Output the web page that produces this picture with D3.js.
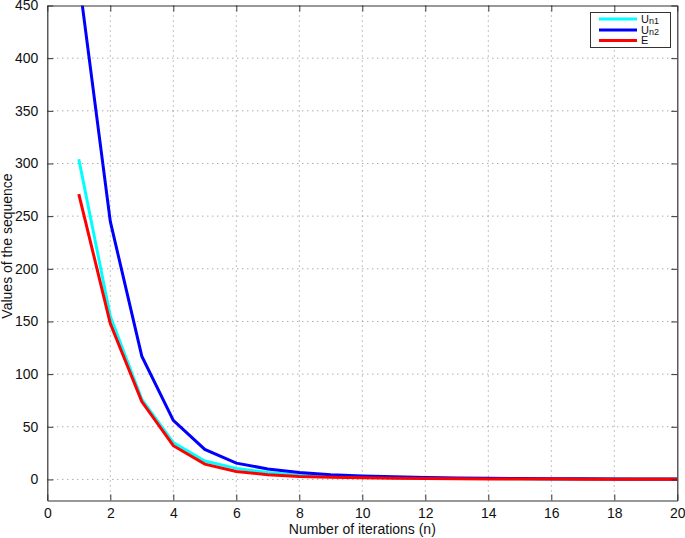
<!DOCTYPE html>
<html><head><meta charset="utf-8">
<script src="https://cdn.jsdelivr.net/npm/d3@7"></script>
<style>
body{margin:0;background:#fff;}
text{font-family:"Liberation Sans",Arial,sans-serif;fill:#111;}
</style></head>
<body><svg id="c" width="685" height="538"></svg>
<script>
const iterations = [1,2,3,4,5,6,7,8,9,10,11,12,13,14,15,16,17,18,19,20];
const un1 = [304,155,76,35,17.5,10.5,6.5,4,3,2.2,1.7,1.3,1,0.8,0.6,0.5,0.4,0.3,0.25,0.2];
const un2 = [476,245,117,56,28.5,15.5,10,6.5,4.5,3.2,2.5,1.8,1.4,1.1,0.9,0.7,0.55,0.45,0.35,0.3];
const errE = [271,148,74,32,14.5,7.5,4.5,2.8,2,1.5,1.1,0.8,0.6,0.5,0.4,0.3,0.25,0.2,0.15,0.1];
const xTicks = [0,2,4,6,8,10,12,14,16,18,20];
const yTicks = [0,50,100,150,200,250,300,350,400,450];
const seriesNames = [["U","n1"],["U","n2"],["E",""]];
const seriesColors = ["#00ffff","#0000ff","#ff0000"];
const seriesData = [un1, un2, errE];

const L=47.3, R=677.3, T=5.5, B=500.5;
const svg = d3.select("#c");
const x = d3.scaleLinear().domain([0,20]).range([L,R]);
const y = d3.scaleLinear().domain([-20,450]).range([B,T]);

// grid
const g = svg.append("g");
xTicks.slice(1,-1).forEach(t=>{
  g.append("line").attr("x1",x(t)).attr("x2",x(t)).attr("y1",T).attr("y2",B)
   .attr("stroke","#888").attr("stroke-width",1).attr("stroke-dasharray","1,4");
});
yTicks.slice(0,-1).forEach(t=>{
  g.append("line").attr("x1",L).attr("x2",R).attr("y1",y(t)).attr("y2",y(t))
   .attr("stroke","#888").attr("stroke-width",1).attr("stroke-dasharray","1,4");
});

// clip
svg.append("clipPath").attr("id","clip").append("rect").attr("x",L).attr("y",T).attr("width",R-L).attr("height",B-T);
const line = d3.line().x((d,i)=>x(iterations[i])).y(d=>y(d));
seriesData.forEach((s,i)=>{
  svg.append("path").attr("d",line(s)).attr("fill","none").attr("stroke",seriesColors[i])
   .attr("stroke-width",3).attr("stroke-linejoin","miter").attr("clip-path","url(#clip)");
});

// axes (MATLAB-like box with inward ticks)
const ax = d3.axisBottom(x).tickValues(xTicks).tickSizeInner(-6).tickSizeOuter(0).tickPadding(8);
svg.append("g").attr("transform",`translate(0,${B})`).call(ax);
const axT = d3.axisTop(x).tickValues(xTicks).tickSizeInner(-6).tickSizeOuter(0).tickFormat("");
svg.append("g").attr("transform",`translate(0,${T})`).call(axT);
const ay = d3.axisLeft(y).tickValues(yTicks).tickSizeInner(-6).tickSizeOuter(0).tickPadding(9);
svg.append("g").attr("transform",`translate(${L},0)`).call(ay);
const ayR = d3.axisRight(y).tickValues(yTicks).tickSizeInner(-6).tickSizeOuter(0).tickFormat("");
svg.append("g").attr("transform",`translate(${R},0)`).call(ayR);
svg.selectAll(".domain").attr("stroke","#333").attr("stroke-width",1.2);
svg.selectAll(".tick line").attr("stroke","#333");
svg.selectAll(".tick text").attr("font-size",14).attr("font-family","Liberation Sans, Arial, sans-serif").attr("fill","#111");

// axis labels
svg.append("text").attr("x",(L+R)/2).attr("y",534).attr("text-anchor","middle")
  .attr("font-size",14).text("Number of iterations (n)");
svg.append("text").attr("transform",`translate(12,${246}) rotate(-90)`).attr("text-anchor","middle")
  .attr("font-size",14).text("Values of the sequence");

// legend
const lg = svg.append("g");
lg.append("rect").attr("x",590.5).attr("y",12.5).attr("width",80).attr("height",35)
  .attr("fill","#fff").attr("stroke","#333").attr("stroke-width",1);
const ly = [19,30,40.5];
seriesNames.forEach((n,i)=>{
  lg.append("line").attr("x1",599).attr("x2",637).attr("y1",ly[i]).attr("y2",ly[i])
    .attr("stroke",seriesColors[i]).attr("stroke-width",3);
  const t = lg.append("text").attr("x",641).attr("y",ly[i]+3.5).attr("font-size",11);
  t.append("tspan").text(n[0]);
  if(n[1]) t.append("tspan").attr("font-size",9).attr("dy",1.5).text(n[1]);
});
</script></body></html>
